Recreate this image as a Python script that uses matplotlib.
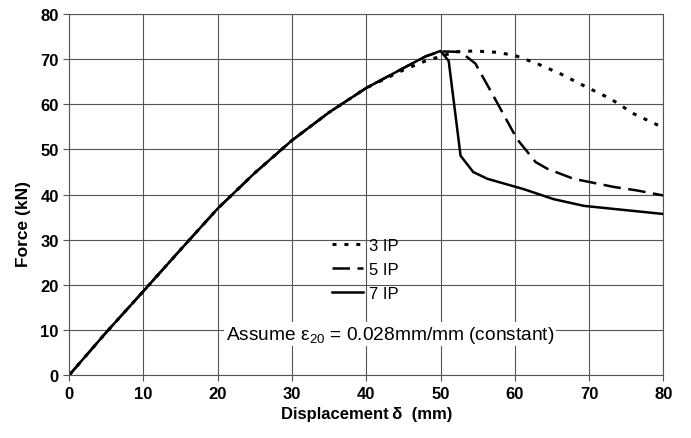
import matplotlib.pyplot as plt

plt.rcParams['font.family'] = ['Liberation Sans', 'DejaVu Sans']

# shared rising branch
rise_x = [0, 5, 10, 15, 20, 25, 30, 35, 40, 45]
rise_y = [0, 9.5, 18.6, 27.8, 36.9, 44.8, 52.0, 58.2, 63.6, 68.0]

ip3_x = rise_x[:-1] + [45, 48, 50, 52, 54.5, 57.6, 60, 63, 66.2, 69.3, 72.9, 76, 80]
ip3_y = rise_y[:-1] + [67.6, 69.6, 70.6, 71.6, 71.8, 71.5, 70.8, 69.0, 66.7, 64.1, 61.2, 57.9, 54.8]

ip5_x = rise_x + [48, 50, 52.7, 54.7, 57.1, 60.3, 62.8, 64.4, 67.9, 73.3, 76.5, 80]
ip5_y = rise_y + [70.6, 71.7, 71.6, 69.0, 61.9, 52.3, 47.2, 45.7, 43.5, 41.7, 40.9, 39.8]

ip7_x = rise_x + [48, 50, 51.1, 52.7, 54.4, 56.3, 61.2, 65.2, 69.3, 80]
ip7_y = rise_y + [70.6, 71.8, 69.6, 48.6, 45.0, 43.5, 41.2, 39.0, 37.5, 35.7]

fig, ax = plt.subplots(figsize=(6.91, 4.39), dpi=100)
fig.subplots_adjust(left=0.1, right=0.96, bottom=0.143, top=0.966)

ax.plot(ip3_x, ip3_y, color='black', lw=2.2, ls=(0, (1.3, 2.6)), label='3 IP')
ax.plot(ip5_x, ip5_y, color='black', lw=1.8, ls=(0, (7, 3)), label='5 IP')
ax.plot(ip7_x, ip7_y, color='black', lw=1.8, label='7 IP')

ax.set_xlim(0, 80)
ax.set_ylim(0, 80)
ax.set_xticks(range(0, 81, 10))
ax.set_yticks(range(0, 81, 10))
ax.grid(True, color='#555555', lw=0.8)
for s in ax.spines.values():
    s.set_color('#555555')
    s.set_linewidth(0.8)
ax.tick_params(labelsize=12, length=4, color='#555555')
for lab in ax.get_xticklabels() + ax.get_yticklabels():
    lab.set_fontweight('bold')

ax.set_xlabel('Displacement\u2009δ  (mm)', fontsize=12, fontweight='bold', labelpad=4)
ax.set_ylabel('Force (kN)', fontsize=12.5, fontweight='bold')
ax.yaxis.set_label_coords(-0.064, 0.42)

leg = ax.legend(loc='center left', bbox_to_anchor=(0.431, 0.294), borderaxespad=0,
                frameon=False, fontsize=12, handlelength=1.85, handletextpad=0.4,
                labelspacing=0.54)

ax.text(0.54, 0.114, 'Assume ε$\\mathregular{_{20}}$ = 0.028mm/mm (constant)',
        transform=ax.transAxes, ha='center', va='center', fontsize=13.8,
        bbox=dict(facecolor='white', edgecolor='none', pad=1))

fig.savefig('out.png', dpi=100)
plt.close(fig)
